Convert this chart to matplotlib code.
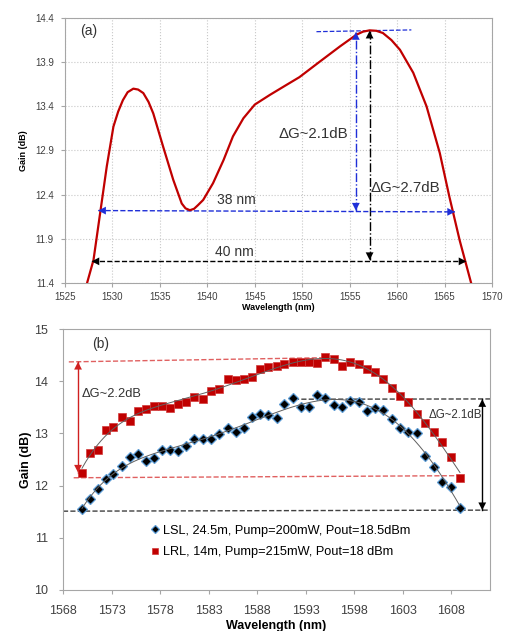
import numpy as np
import matplotlib
matplotlib.use("Agg")
import matplotlib.pyplot as plt

plt.rcParams['font.family'] = ['Liberation Sans', 'DejaVu Sans']

# (a) gain curve
wl_a = [1527.35, 1528.0, 1528.7, 1529.4, 1530.1, 1530.6, 1531.1, 1531.6, 1532.2,
        1532.7, 1533.25, 1533.8, 1534.3, 1535.35, 1536.4, 1537.3, 1537.7, 1538.16,
        1538.6, 1539.0, 1539.56, 1540.6, 1541.7, 1542.7, 1543.8, 1545.0, 1546.6,
        1548.3, 1549.7, 1551.9, 1554.0, 1555.7, 1556.4, 1557.1, 1557.8, 1558.5,
        1559.4, 1560.3, 1561.7, 1563.1, 1564.5, 1565.5, 1566.6, 1567.8]
gain_a = [11.41, 11.66, 12.19, 12.72, 13.17, 13.34, 13.47, 13.56, 13.60,
          13.59, 13.55, 13.45, 13.32, 12.94, 12.57, 12.30, 12.245, 12.224,
          12.24, 12.28, 12.34, 12.53, 12.79, 13.06, 13.265, 13.42, 13.53,
          13.64, 13.73, 13.91, 14.08, 14.21, 14.245, 14.26, 14.255, 14.23,
          14.15, 14.04, 13.78, 13.40, 12.87, 12.38, 11.88, 11.40]

# (b) measured gain
wl_b = [1569.96, 1570.75, 1571.57, 1572.46, 1573.2, 1574.1, 1574.9, 1575.7, 1576.55,
        1577.4, 1578.2, 1579.05, 1579.9, 1580.7, 1581.5, 1582.4, 1583.2, 1584.1,
        1585.0, 1585.8, 1586.6, 1587.5, 1588.3, 1589.1, 1590.0, 1590.8, 1591.7,
        1592.5, 1593.3, 1594.2, 1595.0, 1595.9, 1596.7, 1597.6, 1598.5, 1599.35,
        1600.2, 1601.0, 1601.9, 1602.75, 1603.6, 1604.5, 1605.3, 1606.2, 1607.1,
        1608.0, 1608.9]
lsl = [11.56, 11.74, 11.93, 12.13, 12.22, 12.38, 12.54, 12.61, 12.48,
       12.52, 12.68, 12.69, 12.66, 12.75, 12.90, 12.89, 12.90, 12.98,
       13.11, 13.03, 13.11, 13.32, 13.38, 13.35, 13.29, 13.57, 13.68,
       13.50, 13.50, 13.73, 13.67, 13.54, 13.50, 13.63, 13.60, 13.42,
       13.49, 13.45, 13.27, 13.11, 13.03, 13.01, 12.57, 12.35, 12.06,
       11.98, 11.58]
lrl = [12.25, 12.63, 12.69, 13.07, 13.13, 13.32, 13.24, 13.42, 13.47,
       13.53, 13.53, 13.49, 13.56, 13.60, 13.69, 13.65, 13.81, 13.85,
       14.05, 14.02, 14.04, 14.09, 14.24, 14.27, 14.29, 14.33, 14.37,
       14.37, 14.36, 14.34, 14.46, 14.42, 14.30, 14.37, 14.33, 14.23,
       14.18, 14.05, 13.87, 13.72, 13.61, 13.38, 13.19, 13.02, 12.84,
       12.55, 12.14]

xt_a = np.arange(1525, 1571, 5)
yt_a = [11.4, 11.9, 12.4, 12.9, 13.4, 13.9, 14.4]
xt_b = np.arange(1568, 1609, 5)
yt_b = np.arange(10, 16, 1)

RED = '#c00000'
BLUE = '#1f2fd8'
SPINE = '#a6a6a6'
TXT = '#404040'


def darrow(ax, p0, p1, color, ls, lw=1.0):
    ax.plot([p0[0], p1[0]], [p0[1], p1[1]], color=color, ls=ls, lw=lw)
    ax.annotate('', xy=p1, xytext=p0,
                arrowprops=dict(arrowstyle='<|-|>,head_length=0.55,head_width=0.28',
                                color=color, lw=0.01, shrinkA=0, shrinkB=0,
                                mutation_scale=10))


fig = plt.figure(figsize=(5.08, 6.31), dpi=100)

# ---- panel (a)
ax1 = fig.add_axes([0.128, 0.5515, 0.8405, 0.42])
ax1.plot(wl_a, gain_a, color=RED, lw=1.6, zorder=3)
ax1.set_xlim(1525, 1570)
ax1.set_ylim(11.4, 14.4)
ax1.set_xticks(xt_a)
ax1.set_yticks(yt_a)
ax1.set_yticklabels(['%.1f' % v for v in yt_a])
ax1.grid(True, color='#c8c8c8', ls=':', lw=0.8)
ax1.tick_params(labelsize=7, colors=TXT, length=3, color=SPINE)
ax1.tick_params(axis='y', pad=5)
for s in ax1.spines.values():
    s.set_color(SPINE)
ax1.set_xlabel('Wavelength (nm)', fontsize=6.5, fontweight='bold', labelpad=1)
ax1.set_ylabel('Gain (dB)', fontsize=6.5, fontweight='bold', labelpad=5)

ax1.text(1526.6, 14.25, '(a)', fontsize=10, color='#333333', va='center')
ax1.plot([1551.5, 1561.5], [14.245, 14.265], color=BLUE, ls='--', lw=0.9)
darrow(ax1, (1555.65, 12.22), (1555.65, 14.24), BLUE, '-.')
darrow(ax1, (1557.1, 11.66), (1557.1, 14.255), 'black', '-.')
darrow(ax1, (1528.5, 12.22), (1566.1, 12.205), BLUE, '--')
darrow(ax1, (1527.8, 11.645), (1567.3, 11.645), 'black', '--')
ax1.text(1554.8, 13.09, u'\u0394G~2.1dB', fontsize=10.8, color='#333333', ha='right', va='center')
ax1.text(1557.2, 12.48, u'\u0394G~2.7dB', fontsize=10.8, color='#333333', ha='left', va='center')
ax1.text(1543.1, 12.34, '38 nm', fontsize=10, color='#333333', ha='center', va='center')
ax1.text(1542.9, 11.75, '40 nm', fontsize=10, color='#333333', ha='center', va='center')

# ---- panel (b)
ax2 = fig.add_axes([0.124, 0.065, 0.8406, 0.4136])
ax2.set_xlim(1568, 1612)
ax2.set_ylim(10, 15)

xb = np.array(wl_b)
xf = np.linspace(xb.min(), xb.max(), 300)
for ys in (lsl, lrl):
    c = np.polyfit(xb - 1590, ys, 5)
    ax2.plot(xf, np.polyval(c, xf - 1590), color='#606060', lw=0.7, zorder=4)

ax2.plot(wl_b, lsl, ls='none', marker='D', ms=4.8, mfc='black', mec='#5b9bd5',
         mew=0.9, zorder=3, label='LSL, 24.5m, Pump=200mW, Pout=18.5dBm')
ax2.plot(wl_b, lrl, ls='none', marker='s', ms=5.6, mfc=RED, mec='#d23a3a',
         mew=0.5, zorder=3, label='LRL, 14m, Pump=215mW, Pout=18 dBm')

ax2.plot([1568.6, 1595.0], [14.37, 14.45], color='#e06060', ls='--', lw=1.0, zorder=2)
ax2.plot([1569.1, 1608.9], [12.15, 12.19], color='#e06060', ls='--', lw=1.0, zorder=2)
ax2.plot([1591.8, 1612], [13.655, 13.66], color='#404040', ls='--', lw=1.0, zorder=2)
ax2.plot([1568, 1612], [11.51, 11.53], color='#404040', ls='--', lw=1.0, zorder=2)
darrow(ax2, (1569.55, 12.25), (1569.55, 14.37), '#d02020', '-')
darrow(ax2, (1611.2, 11.53), (1611.2, 13.655), 'black', '-')
ax2.text(1571.0, 14.71, '(b)', fontsize=10, color='#333333', va='center')
ax2.text(1569.9, 13.755, u'\u0394G~2.2dB', fontsize=9.3, color='#333333', va='center')
ax2.text(1605.7, 13.36, u'\u0394G~2.1dB', fontsize=8.3, color='#333333', va='center')

ax2.set_xticks(xt_b)
ax2.set_yticks(yt_b)
ax2.tick_params(labelsize=9, colors=TXT, length=3, color=SPINE)
ax2.tick_params(axis='x', pad=8)
ax2.tick_params(axis='y', pad=8)
for s in ax2.spines.values():
    s.set_color(SPINE)
ax2.set_xlabel('Wavelength (nm)', fontsize=9, fontweight='bold', labelpad=2)
ax2.set_ylabel('Gain (dB)', fontsize=9, fontweight='bold', labelpad=1)
ax2.legend(loc='upper left', bbox_to_anchor=(0.195, 0.27), frameon=False, fontsize=9.2,
           handlelength=0.6, handletextpad=0.3, markerscale=0.8, labelspacing=0.75,
           borderaxespad=0)

fig.savefig('out.png', dpi=100)
